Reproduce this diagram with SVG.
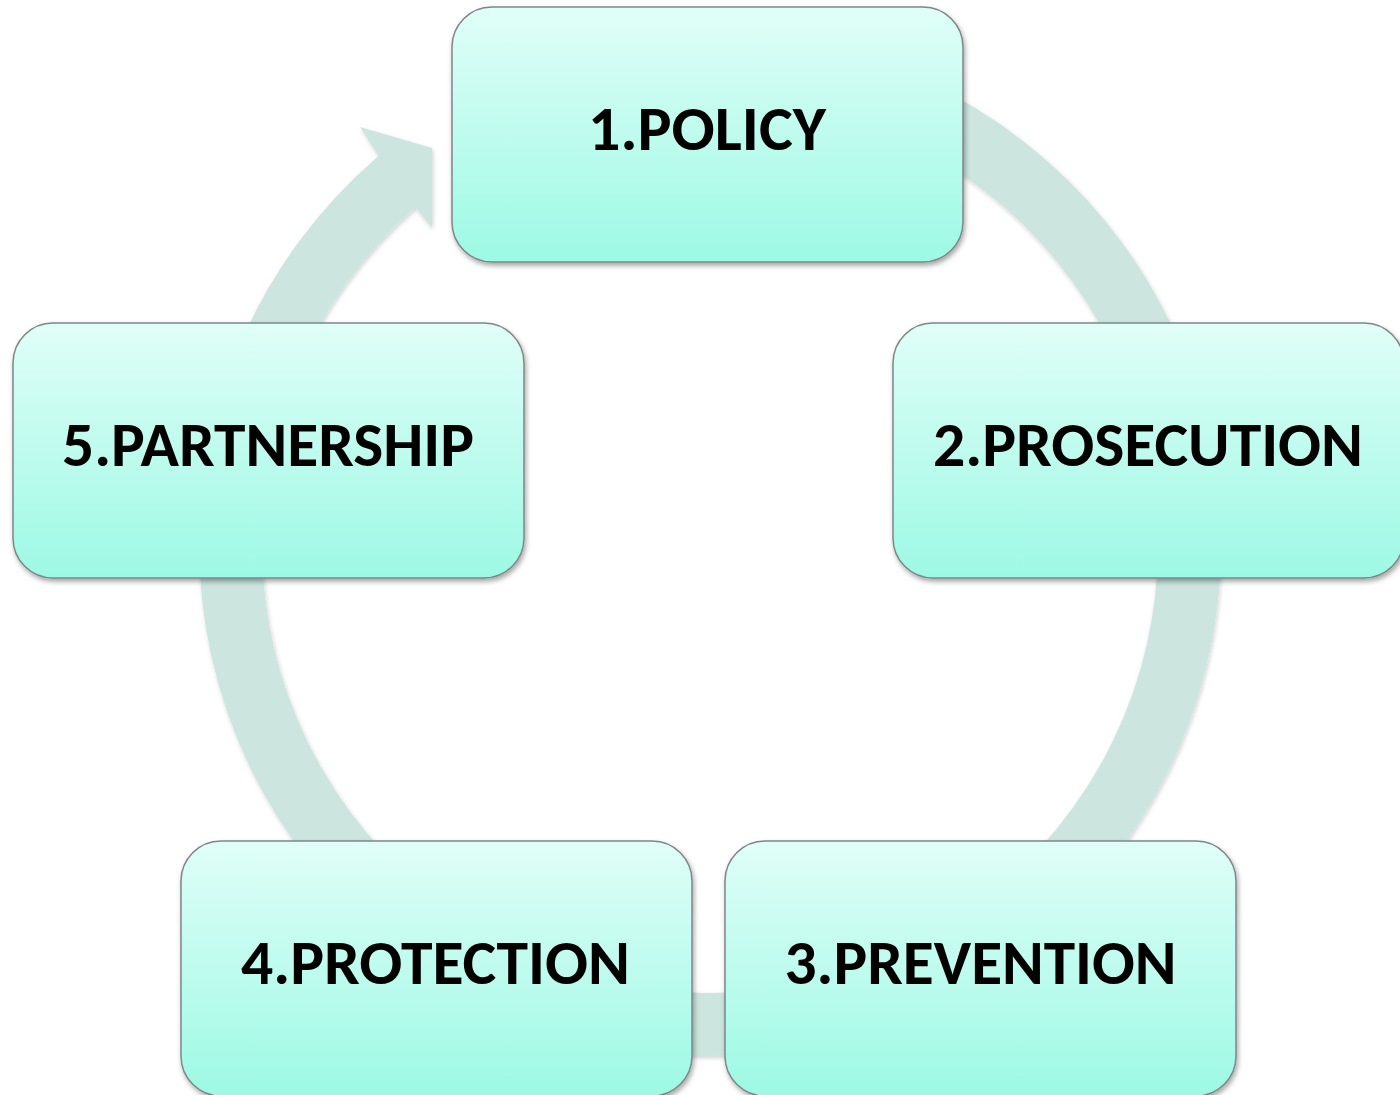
<svg xmlns="http://www.w3.org/2000/svg" width="1400" height="1095" viewBox="0 0 1400 1095">
  <defs>
    <linearGradient id="boxFill" x1="0" y1="0" x2="0" y2="1">
      <stop offset="0" stop-color="#e0fef8"/>
      <stop offset="1" stop-color="#9df9e4"/>
    </linearGradient>
    <filter id="shadow" x="-10%" y="-10%" width="120%" height="125%">
      <feDropShadow dx="1.5" dy="3" stdDeviation="2.5" flood-color="#000" flood-opacity="0.35"/>
    </filter>
    <filter id="ringShadow" x="-10%" y="-10%" width="120%" height="120%">
      <feDropShadow dx="1" dy="2" stdDeviation="2" flood-color="#000" flood-opacity="0.18"/>
    </filter>
  </defs>
  <style>
    .box { fill: url(#boxFill); stroke: #7d8786; stroke-width: 1.5; filter: url(#shadow); }
    .label { font-family: Calibri, Carlito, Lato, "Open Sans", sans-serif; font-weight: bold; font-size: 62px; fill: #000; text-anchor: middle; }
    .ring { fill: #cce5df; filter: url(#ringShadow); }
  </style>
  <rect width="1400" height="1095" fill="#ffffff"/>

  <g id="connectors">
    <path class="ring" d="M 754.5,35.9 A 511 511 0 1 1 378.6,156.1 L 360,127 L 432,148 L 432,228 L 415.5,207.4 A 448 448 0 1 0 749,98.7 Z"/>
  </g>

  <g id="node1">
    <rect class="box" x="452" y="7" width="511" height="255" rx="40" ry="40"/>
    <text class="label" x="707" y="150" textLength="238" lengthAdjust="spacingAndGlyphs">1.POLICY</text>
  </g>
  <g id="node2">
    <rect class="box" x="893" y="323" width="511" height="255" rx="40" ry="40"/>
    <text class="label" x="1148" y="466" textLength="430" lengthAdjust="spacingAndGlyphs">2.PROSECUTION</text>
  </g>
  <g id="node3">
    <rect class="box" x="725" y="841" width="511" height="255" rx="40" ry="40"/>
    <text class="label" x="980.5" y="984" textLength="392" lengthAdjust="spacingAndGlyphs">3.PREVENTION</text>
  </g>
  <g id="node4">
    <rect class="box" x="181" y="841" width="511" height="255" rx="40" ry="40"/>
    <text class="label" x="435.5" y="984" textLength="389" lengthAdjust="spacingAndGlyphs">4.PROTECTION</text>
  </g>
  <g id="node5">
    <rect class="box" x="13" y="323" width="511" height="255" rx="40" ry="40"/>
    <text class="label" x="268" y="466" textLength="412" lengthAdjust="spacingAndGlyphs">5.PARTNERSHIP</text>
  </g>
</svg>
